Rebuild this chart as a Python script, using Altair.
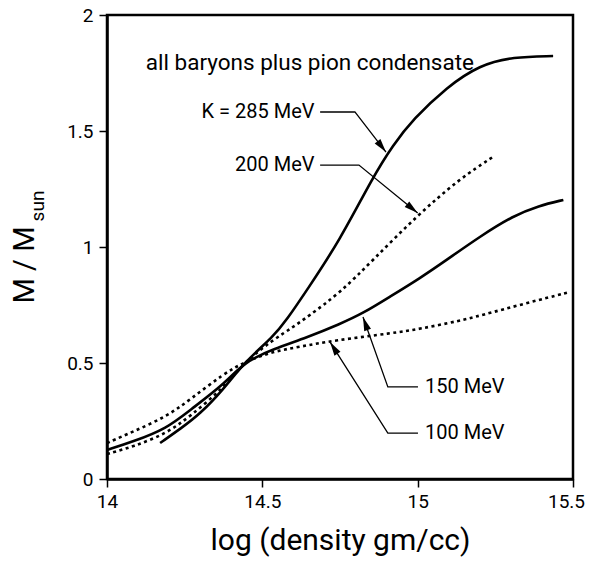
import math
import altair as alt
import pandas as pd

# ---- data ----
x_285 = [14.171, 14.24, 14.299, 14.374, 14.444, 14.535, 14.578, 14.644, 14.75, 14.856, 14.921, 14.985, 15.094, 15.2, 15.307, 15.436]
y_285 = [0.155, 0.22, 0.28, 0.385, 0.506, 0.613, 0.685, 0.815, 1.03, 1.302, 1.44, 1.55, 1.69, 1.785, 1.82, 1.823]

x_200 = [14.0, 14.084, 14.193, 14.267, 14.374, 14.444, 14.535, 14.599, 14.644, 14.75, 14.856, 14.998, 15.136, 15.242]
y_200 = [0.108, 0.139, 0.197, 0.27, 0.391, 0.506, 0.6, 0.655, 0.698, 0.802, 0.944, 1.135, 1.295, 1.388]

x_150 = [14.0, 14.084, 14.193, 14.267, 14.374, 14.444, 14.535, 14.643, 14.75, 14.825, 14.911, 15.007, 15.093, 15.2, 15.308, 15.39, 15.469]
y_150 = [0.125, 0.161, 0.218, 0.297, 0.405, 0.506, 0.56, 0.61, 0.668, 0.715, 0.786, 0.865, 0.944, 1.045, 1.135, 1.178, 1.203]

x_100 = [14.0, 14.084, 14.193, 14.267, 14.374, 14.444, 14.535, 14.621, 14.729, 14.921, 15.007, 15.136, 15.2, 15.35, 15.49]
y_100 = [0.155, 0.204, 0.27, 0.342, 0.452, 0.506, 0.55, 0.57, 0.597, 0.629, 0.647, 0.682, 0.704, 0.758, 0.806]

x_ticks = [14, 14.5, 15, 15.5]
y_ticks = [0, 0.5, 1, 1.5, 2]

# annotation labels (data units)
label_text = ["K = 285 MeV", "200 MeV", "150 MeV", "100 MeV"]
label_x = [14.668, 14.668, 15.024, 15.024]
label_y = [1.582, 1.353, 0.397, 0.198]
label_align = ["right", "right", "left", "left"]

# leader polylines (data units); last point is the arrow tip
leader_x = [[14.686, 14.798, 14.898], [14.686, 14.811, 15.0], [15.001, 14.904, 14.824], [15.001, 14.904, 14.718]]
leader_y = [[1.582, 1.582, 1.409], [1.353, 1.353, 1.147], [0.397, 0.397, 0.698], [0.198, 0.198, 0.59]]

title_text = "all baryons plus pion condensate"
title_x = [14.653]
title_y = [1.793]

# ---- layout ----
W, H = 466, 464
XMIN, XMAX, YMIN, YMAX = 14.0, 15.5, 0.0, 2.0
FONT = "Roboto"


def frame(name, xs, ys):
    return pd.DataFrame({"x": xs, "y": ys, "series": name, "i": list(range(len(xs)))})


solid = pd.concat([frame("K = 285 MeV", x_285, y_285), frame("150 MeV", x_150, y_150)], ignore_index=True)
dotted = pd.concat([frame("200 MeV", x_200, y_200), frame("100 MeV", x_100, y_100)], ignore_index=True)

leaders = pd.concat(
    [frame(label_text[k], leader_x[k], leader_y[k]) for k in range(len(label_text))],
    ignore_index=True,
)

sx = W / (XMAX - XMIN)
sy = H / (YMAX - YMIN)
heads = []
for k in range(len(label_text)):
    x1, x2 = leader_x[k][-2], leader_x[k][-1]
    y1, y2 = leader_y[k][-2], leader_y[k][-1]
    dx = (x2 - x1) * sx
    dy = -(y2 - y1) * sy
    ang = math.degrees(math.atan2(dx, -dy)) % 360
    heads.append({"x": x2, "y": y2, "angle": ang})
heads = pd.DataFrame(heads)

labels = pd.DataFrame({"x": label_x, "y": label_y, "text": label_text, "align": label_align})
title_df = pd.DataFrame({"x": title_x, "y": title_y, "text": [title_text]})

xscale = alt.Scale(domain=[XMIN, XMAX], nice=False, zero=False)
yscale = alt.Scale(domain=[YMIN, YMAX], nice=False, zero=False)


def X():
    return alt.X(
        "x:Q",
        scale=xscale,
        axis=alt.Axis(
            values=x_ticks, format=".1~f", title="log (density gm/cc)",
            labelFontSize=19, titleFontSize=30, tickSize=8, labelPadding=5,
            titlePadding=14, labelFlush=False,
            labelOffset={"condition": {"test": "datum.value == 15.5", "value": -7}, "value": 0},
        ),
    )


def Y():
    return alt.Y(
        "y:Q",
        scale=yscale,
        axis=alt.Axis(
            values=y_ticks, format=".1~f", title=None,
            labelFontSize=19, tickSize=8, labelPadding=6, labelFlush=False,
        ),
    )


solid_layer = alt.Chart(solid).mark_line(
    color="black", strokeWidth=2.6, interpolate="basis"
).encode(x=X(), y=Y(), detail="series:N", order="i:Q")

dotted_layer = alt.Chart(dotted).mark_line(
    color="black", strokeWidth=2.6, interpolate="basis", strokeDash=[3, 3.5]
).encode(x=X(), y=Y(), detail="series:N", order="i:Q")

leader_layer = alt.Chart(leaders).mark_line(color="black", strokeWidth=1.3).encode(
    x=X(), y=Y(), detail="series:N", order="i:Q"
)

ARROW = "M0,0L0.26,1L-0.26,1Z"
head_layer = alt.Chart(heads).mark_point(
    shape=ARROW, filled=True, color="black", opacity=1, size=760, strokeWidth=0
).encode(x=X(), y=Y(), angle=alt.Angle("angle:Q", scale=None))

label_right = alt.Chart(labels[labels["align"] == "right"]).mark_text(
    font=FONT, fontSize=20, color="black", align="right", baseline="middle"
).encode(x=X(), y=Y(), text="text:N")

label_left = alt.Chart(labels[labels["align"] == "left"]).mark_text(
    font=FONT, fontSize=20, color="black", align="left", baseline="middle"
).encode(x=X(), y=Y(), text="text:N")

title_layer = alt.Chart(title_df).mark_text(
    font=FONT, fontSize=22.5, color="black", align="center", baseline="middle"
).encode(x=X(), y=Y(), text="text:N")

ytitle_main = alt.Chart(pd.DataFrame({"t": ["M / M"]})).mark_text(
    font=FONT, fontSize=29, color="black", angle=270, align="center", baseline="middle"
).encode(x=alt.value(-82), y=alt.value(250), text="t:N")

ytitle_sub = alt.Chart(pd.DataFrame({"t": ["sun"]})).mark_text(
    font=FONT, fontSize=19, color="black", angle=270, align="center", baseline="middle"
).encode(x=alt.value(-69), y=alt.value(191), text="t:N")

chart = alt.layer(
    solid_layer, dotted_layer, leader_layer, head_layer,
    label_right, label_left, title_layer, ytitle_main, ytitle_sub,
).properties(
    width=W, height=H,
    padding={"left": 107, "top": 15, "right": 17, "bottom": 91},
    autosize=alt.AutoSizeParams(type="none"),
    background="white",
).configure_view(
    stroke="black", strokeWidth=2.5
).configure_axis(
    grid=False, domainColor="black", domainWidth=2.5, tickColor="black", tickWidth=1.5,
    labelColor="black", titleColor="black", labelFont=FONT, titleFont=FONT,
    titleFontWeight="normal",
)

chart.save("out.html", embed_options={"renderer": "svg", "actions": False})
